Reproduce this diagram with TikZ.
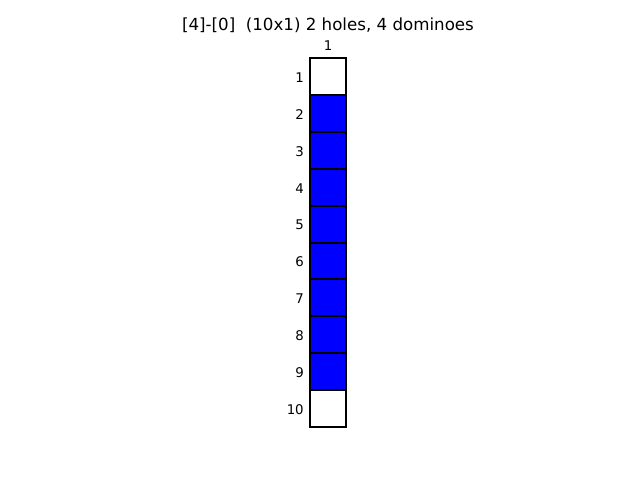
\documentclass[tikz,border=0pt]{standalone}
\usepackage{fontspec}
\setmainfont{DejaVu Sans}
\usetikzlibrary{positioning}

\tikzset{
    cell/.style={minimum width=27pt, minimum height=27.63pt, inner sep=0pt, outer sep=0pt},
    edge/.style={draw=black, line width=1.5pt},
    rowlab/.style={inner sep=0pt, font=\fontsize{10}{12}\selectfont},
}

\begin{document}
\begin{tikzpicture}[x=0.75pt, y=-0.75pt]
                \useasboundingbox (0,0) rectangle (640,480);
                % board column, holes at rows 1 and 10
                \foreach \i in {1,...,10}{
                    \ifnum\i=1 \def\fc{white}\else\ifnum\i=10 \def\fc{white}\else\def\fc{blue}\fi\fi
                    \node[cell, fill=\fc] (c\i) at (328, {58.3+(\i-0.5)*36.84}) {};
                    \node[rowlab, left=4.5pt of c\i, yshift=-0.75pt] (r\i) {\i};
                }
                \foreach \i in {1,...,10}
                    \draw[edge] (c\i.south west) rectangle (c\i.north east);
                \node[rowlab, above=5.5pt of c1] (k1) {1};
                \node[inner sep=0pt, font=\fontsize{12.5}{14}\selectfont] (title) at (328,25.5) {[4]-[0]\ \ (10x1) 2 holes, 4 dominoes};
            \end{tikzpicture}
\end{document}
